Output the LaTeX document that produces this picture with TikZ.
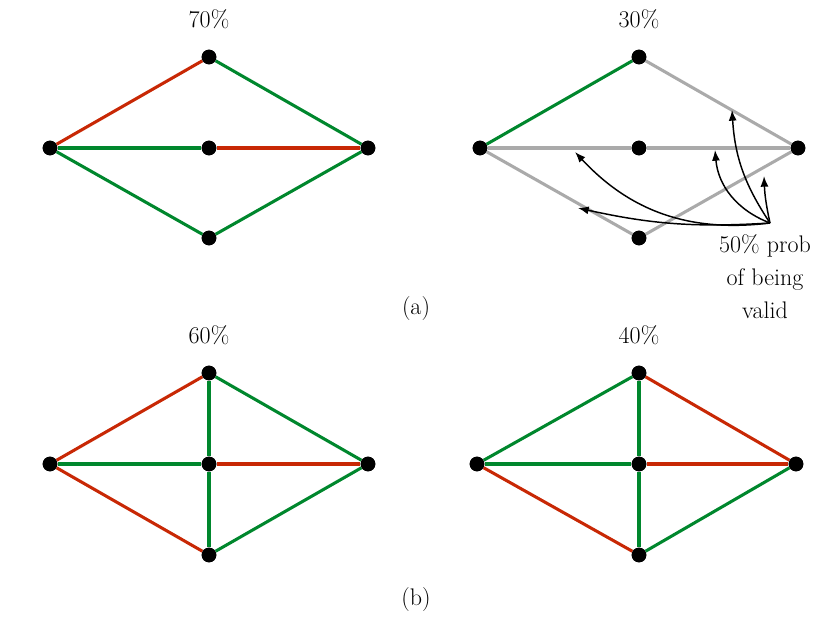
\documentclass[tikz,border=0pt]{standalone}
\usetikzlibrary{arrows.meta}
\definecolor{ered}{RGB}{200,40,5}
\definecolor{egreen}{RGB}{0,135,45}
\definecolor{egray}{RGB}{170,170,170}
\begin{document}
\begin{tikzpicture}[x=0.75pt,y=-0.75pt,
  dot/.style={circle,fill=black,inner sep=0pt,minimum size=11pt},
  edge/.style={line width=2.3pt},
  r/.style={edge,ered}, g/.style={edge,egreen}, k/.style={edge,egray},
  lbl/.style={font=\fontsize{18}{24.8}\selectfont},
  arr/.style={line width=1.1pt,-{Latex[length=8pt,width=6pt]}}]
\useasboundingbox (0,0) rectangle (830,620);
% top-left
\node[dot] (aL) at (50,148) {}; \node[dot] (aT) at (209,57) {};
\node[dot] (aC) at (209,148) {}; \node[dot] (aR) at (368,148) {};
\node[dot] (aB) at (209,238) {};
\node[lbl] (a70) at (209,19) {70\%};
\draw[r] (aL) -- (aT); \draw[g] (aT) -- (aR); \draw[g] (aL) -- (aC);
\draw[r] (aC) -- (aR); \draw[g] (aL) -- (aB); \draw[g] (aB) -- (aR);
% top-right
\node[dot] (bL) at (480,148) {}; \node[dot] (bT) at (639,57) {};
\node[dot] (bC) at (639,148) {}; \node[dot] (bR) at (798,148) {};
\node[dot] (bB) at (639,238) {};
\node[lbl] (b30) at (639,19) {30\%};
\draw[g] (bL) -- (bT); \draw[k] (bT) -- (bR); \draw[k] (bL) -- (bC);
\draw[k] (bC) -- (bR); \draw[k] (bL) -- (bB); \draw[k] (bB) -- (bR);
% bottom-left
\node[dot] (cL) at (50,464) {}; \node[dot] (cT) at (209,373) {};
\node[dot] (cC) at (209,464) {}; \node[dot] (cR) at (368,464) {};
\node[dot] (cB) at (209,555) {};
\node[lbl] (c60) at (209,335) {60\%};
\draw[r] (cL) -- (cT); \draw[g] (cT) -- (cR); \draw[g] (cL) -- (cC);
\draw[r] (cC) -- (cR); \draw[r] (cL) -- (cB); \draw[g] (cB) -- (cR);
\draw[g] (cT) -- (cC); \draw[g] (cC) -- (cB);
% bottom-right
\node[dot] (dL) at (477,464) {}; \node[dot] (dT) at (639,373) {};
\node[dot] (dC) at (639,464) {}; \node[dot] (dR) at (796,464) {};
\node[dot] (dB) at (639,555) {};
\node[lbl] (d40) at (639,335) {40\%};
\draw[g] (dL) -- (dT); \draw[r] (dT) -- (dR); \draw[g] (dL) -- (dC);
\draw[r] (dC) -- (dR); \draw[r] (dL) -- (dB); \draw[g] (dB) -- (dR);
\draw[g] (dT) -- (dC); \draw[g] (dC) -- (dB);
% redraw dots on top
\foreach \n in {aL,aT,aC,aR,aB,bL,bT,bC,bR,bB,cL,cT,cC,cR,cB,dL,dT,dC,dR,dB}
  \fill (\n) circle (5.5pt);
% captions
\node[lbl] (capa) at (416,309) {(a)};
\node[lbl] (capb) at (416,600) {(b)};
% annotation
\node[lbl,align=center,anchor=north,inner sep=0pt] (note) at (765,234) {50\% prob\\of being\\valid};
\coordinate (src) at (770,223);
\coordinate (e1) at (575,152);
\coordinate (e2) at (578,208);
\coordinate (e3) at (715,150);
\coordinate (e4) at (732,110);
\coordinate (e5) at (764,176);
\draw[arr] (src) to[bend left=27] (e1);
\draw[arr] (src) to[bend left=8] (e2);
\draw[arr] (src) to[bend left=32] (e3);
\draw[arr] (src) to[bend left=15] (e4);
\draw[arr] (src) to[bend left=5] (e5);
\end{tikzpicture}
\end{document}
